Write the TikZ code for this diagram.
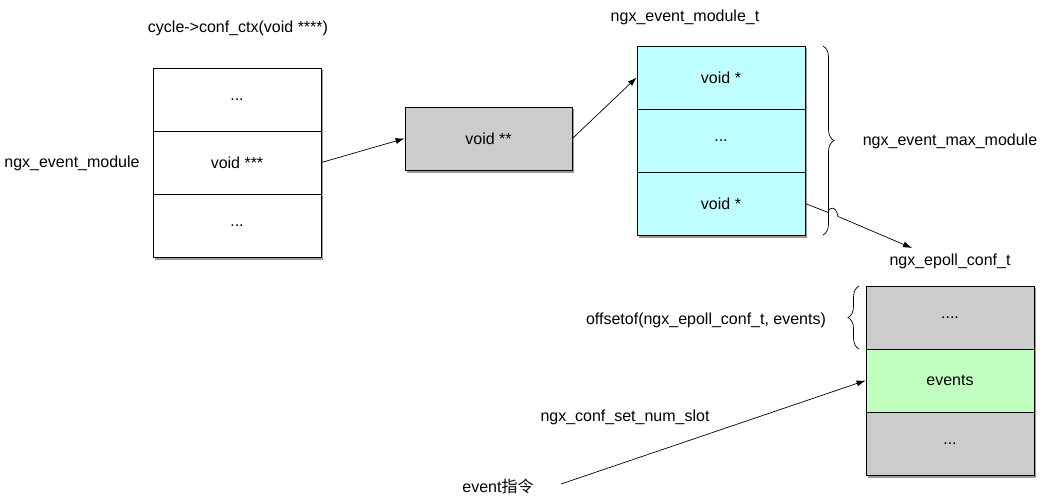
\documentclass[tikz,border=0pt]{standalone}
\usepackage{fontspec}
\setmainfont{Liberation Sans}
\newfontfamily\cjk{Noto Sans CJK SC}
\usetikzlibrary{arrows.meta,decorations.pathreplacing}
\definecolor{cellcyan}{HTML}{C0FFFF}
\definecolor{cellgray}{HTML}{CCCCCC}
\definecolor{cellgreen}{HTML}{C0FFC0}
\tikzset{
  cell/.style={draw=black, line width=0.8pt, minimum width=168pt, minimum height=63pt, inner sep=0pt, font=\fontsize{16}{19}\selectfont},
  lbl/.style={font=\fontsize{16}{19}\selectfont, inner sep=0pt},
  ptr/.style={-{Latex[length=9pt,width=6pt]}, line width=0.7pt},
  shade/.style={fill=black!40},
  brc/.style={decorate, decoration={brace, amplitude=11pt}, line width=0.7pt}
}
\begin{document}
\begin{tikzpicture}[x=1pt,y=-1pt]
\useasboundingbox (0,0) rectangle (1043,501);
\fill[white] (0,0) rectangle (1043,501);
% shadows
\fill[shade] (154.5,70) rectangle (323,259.5);
\fill[shade] (406.5,109) rectangle (574,172.5);
\fill[shade] (638.5,48) rectangle (807,237.5);
\fill[shade] (867.5,288) rectangle (1036,477.5);
% left stack
\node[cell, fill=white] (l1) at (237,99.5) {...};
\node[cell, fill=white] (l2) at (237,162.5) {void ***};
\node[cell, fill=white] (l3) at (237,225.5) {...};
\node[lbl] (ctx) at (238,28) {cycle->conf\_ctx(void ****)};
\node[lbl] (evm) at (72,163) {ngx\_event\_module};
% void **
\node[cell, fill=cellgray, minimum width=167pt] (v) at (488.5,138.5) {void **};
% cyan stack
\node[cell, fill=cellcyan] (c1) at (721,77.5) {void *};
\node[cell, fill=cellcyan] (c2) at (721,140.5) {...};
\node[cell, fill=cellcyan] (c3) at (721,203.5) {void *};
\node[lbl] (emt) at (685,17) {ngx\_event\_module\_t};
\node[lbl] (emm) at (950,141) {ngx\_event\_max\_module};
% epoll conf
\node[cell, fill=cellgray] (r1) at (950,317.5) {....};
\node[cell, fill=cellgreen] (r2) at (950,380.5) {events};
\node[cell, fill=cellgray] (r3) at (950,443.5) {...};
\node[lbl] (ect) at (950,261) {ngx\_epoll\_conf\_t};
\node[lbl] (off) at (706,320) {offsetof(ngx\_epoll\_conf\_t, events)};
\node[lbl] (slot) at (625,417) {ngx\_conf\_set\_num\_slot};
\node[lbl] (evc) at (498,486) {event{\cjk 指令}};
% braces
\draw[brc] (823,46) -- (823,235);
\draw[brc] (859,349) -- (859,286);
% arrows
\coordinate (ectin) at (912,248);
\coordinate (evstart) at (561,484);
\draw[ptr] (l2.east) -- (v.west);
\draw[ptr] (v.east) -- (c1.west);
\draw[ptr] (c3.east) -- (828,212.5) .. controls (829.5,206) and (836,206) .. (838,216.5) -- (ectin);
\draw[ptr] (evstart) -- (r2.west);
\end{tikzpicture}
\end{document}
